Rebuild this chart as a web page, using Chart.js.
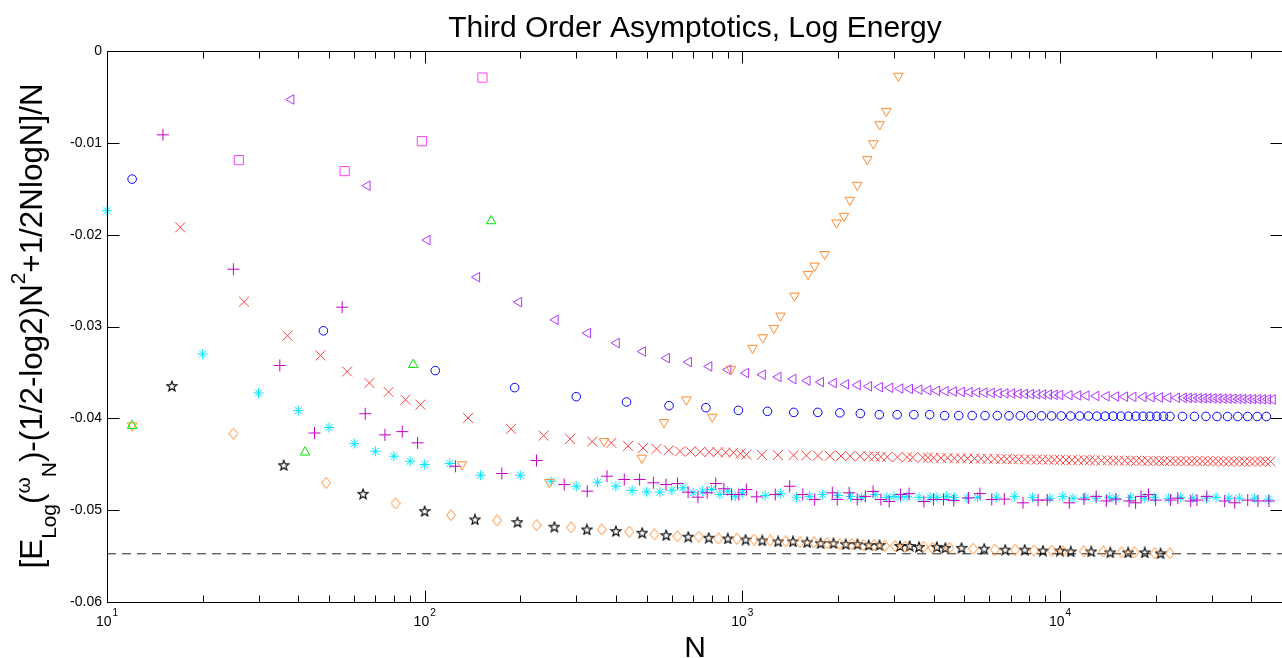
<!DOCTYPE html>
<html>
<head>
<meta charset="utf-8">
<title>Third Order Asymptotics, Log Energy</title>
<script src="https://cdn.jsdelivr.net/npm/chart.js@4.4.1/dist/chart.umd.min.js"></script>
<style>
  html, body { margin: 0; padding: 0; background: #fff; overflow: hidden; }
  #wrap { width: 1290px; height: 658px; position: relative; }
</style>
</head>
<body>
<div id="wrap"><canvas id="chart"></canvas></div>
<script>
// axis ranges and tick labels
const xMin = 10, xMax = 50000;
const xTicks = [10, 100, 1000, 10000];
const xTickExp = ['1', '2', '3', '4'];
const yTicks = [-0.06, -0.05, -0.04, -0.03, -0.02, -0.01, 0];
const yTickLabels = ['-0.06', '-0.05', '-0.04', '-0.03', '-0.02', '-0.01', '0'];
const limitValue = -0.05475; // dashed asymptote

// blue circles
const nCircle = [12, 48, 108, 192, 300, 432, 588, 768, 972, 1200,
  1452, 1728, 2028, 2352, 2700, 3072, 3468, 3888, 4332, 4800,
  5292, 5808, 6348, 6912, 7500, 8112, 8748, 9408, 10092, 10800,
  11532, 12288, 13068, 13872, 14700, 15552, 16428, 17328, 18252, 19200,
  20172, 21168, 22188, 24300, 26508, 28812, 31212, 33708, 36300, 38988,
  41772, 44652];
const eCircle = [-0.01395, -0.03047, -0.0348, -0.03666, -0.03764, -0.03822, -0.03862, -0.03884, -0.03913, -0.03924,
  -0.03935, -0.03935, -0.0394, -0.03948, -0.0396, -0.0396, -0.0396, -0.0396, -0.0397, -0.0397,
  -0.0397, -0.0397, -0.0397, -0.03972, -0.03972, -0.03973, -0.03973, -0.03974, -0.03974, -0.03975,
  -0.03975, -0.03975, -0.03976, -0.03976, -0.03976, -0.03977, -0.03977, -0.03977, -0.03978, -0.03978,
  -0.03978, -0.03978, -0.03979, -0.03979, -0.03979, -0.03979, -0.0398, -0.0398, -0.0398, -0.0398,
  -0.0398, -0.0398];

// purple left triangles
const nLeftTri = [38, 66, 102, 146, 198, 258, 326, 402, 486, 578,
  678, 786, 902, 1026, 1158, 1298, 1446, 1602, 1766, 1938,
  2118, 2306, 2502, 2706, 2918, 3138, 3366, 3602, 3846, 4098,
  4358, 4626, 4902, 5186, 5478, 5778, 6086, 6402, 6726, 7058,
  7398, 7746, 8102, 8466, 8838, 9218, 9606, 10002, 10700, 11400,
  12100, 13000, 14000, 15000, 16000, 17000, 18300, 19400, 20600, 21900,
  23300, 24500, 25400, 26300, 27300, 28300, 29300, 30400, 31500, 32700,
  33900, 35100, 36400, 37700, 39100, 40500, 42000, 43500, 45100, 46700];
const eLeftTri = [-0.00528, -0.01467, -0.0206, -0.02463, -0.02735, -0.02927, -0.03072, -0.0318, -0.03272, -0.03344,
  -0.03387, -0.03435, -0.03471, -0.03507, -0.03525, -0.0355, -0.03572, -0.0359, -0.03605, -0.03616,
  -0.0363, -0.03638, -0.03652, -0.0366, -0.03667, -0.03675, -0.0368, -0.03688, -0.03694, -0.037,
  -0.03704, -0.03708, -0.03712, -0.03715, -0.03718, -0.0372, -0.03723, -0.03726, -0.03728, -0.0373,
  -0.03732, -0.03734, -0.03736, -0.03738, -0.0374, -0.03742, -0.03744, -0.03745, -0.03748, -0.0375,
  -0.03753, -0.03756, -0.03759, -0.03762, -0.03764, -0.03766, -0.03768, -0.0377, -0.03772, -0.03774,
  -0.03776, -0.03777, -0.03778, -0.03779, -0.0378, -0.03781, -0.03782, -0.03783, -0.03784, -0.03785,
  -0.03786, -0.03787, -0.03788, -0.03789, -0.0379, -0.03791, -0.03792, -0.03793, -0.03794, -0.03795];

// red x marks
const nCrossX = [17, 27, 37, 47, 57, 67, 77, 87, 97,
  137, 187, 237, 287, 337, 387, 437, 487, 537, 587,
  637, 687, 737, 787, 837, 887, 937, 987,
  1030, 1152, 1294, 1449, 1590, 1730, 1886, 2045, 2184, 2350,
  2496, 2610, 2730, 2860, 3080, 3300, 3440, 3700, 3840, 4000,
  4220, 4430, 4650, 4880, 5120, 5380, 5640, 5920, 6220, 6530,
  6800, 7100, 7400, 7750, 8100, 8450, 8800, 9200, 9600, 10000,
  10450, 10900, 11400, 11900, 12400, 12900, 13500, 14100, 14700, 15300,
  16000, 16700, 17400, 18100, 18900, 19700, 20500, 21300, 22200, 23100,
  24000, 25000, 26000, 27000, 28100, 29200, 30300, 31500, 32700, 34000,
  35300, 36700, 38100, 39600, 41100, 42700, 44300, 46000];
const eCrossX = [-0.0192, -0.0273, -0.031, -0.03315, -0.0349, -0.03615, -0.03713, -0.03797, -0.03851,
  -0.03996, -0.04115, -0.04188, -0.04224, -0.04253, -0.04267, -0.043, -0.04322, -0.04333, -0.04348,
  -0.0436, -0.04362, -0.04365, -0.04368, -0.0437, -0.04372, -0.04374, -0.04385,
  -0.04395, -0.04398, -0.044, -0.04402, -0.04404, -0.04406, -0.04408, -0.0441, -0.04412, -0.04413,
  -0.04414, -0.04416, -0.04418, -0.0442, -0.04422, -0.04424, -0.04425, -0.04427, -0.04428, -0.0443,
  -0.04431, -0.04432, -0.04434, -0.04435, -0.04436, -0.04438, -0.04439, -0.0444, -0.04441, -0.04443,
  -0.04444, -0.04445, -0.04446, -0.04447, -0.04448, -0.04449, -0.0445, -0.04451, -0.04452, -0.04453,
  -0.04454, -0.04455, -0.04456, -0.04456, -0.04457, -0.04458, -0.04459, -0.04459, -0.0446, -0.04461,
  -0.04461, -0.04462, -0.04462, -0.04463, -0.04463, -0.04464, -0.04464, -0.04465, -0.04465, -0.04465,
  -0.04466, -0.04466, -0.04466, -0.04467, -0.04467, -0.04467, -0.04468, -0.04468, -0.04468, -0.04469,
  -0.04469, -0.04469, -0.0447, -0.0447, -0.0447, -0.0447, -0.0447, -0.0447];

// magenta plus signs
const nPlus = [15, 25, 35, 45, 55, 65, 75, 85, 95,
  125, 175, 225, 275, 325, 375, 425, 475, 525, 575,
  625, 675, 725, 775, 825, 875, 925, 975,
  1030, 1110, 1270, 1410, 1550, 1690, 1920, 1990, 2170, 2300,
  2440, 2580, 2730, 2900, 3150, 3350, 3730, 4000, 4300, 4630,
  5150, 5600, 6100, 6680, 7650, 8530, 9120, 10700, 11900, 13000,
  14000, 15000, 16500, 17300, 18000, 19000, 20000, 22300, 23500, 25800,
  27000, 29000, 33000, 35500, 39000, 42000, 45500];
const ePlus = [-0.00913, -0.02376, -0.03424, -0.0416, -0.0279, -0.0395, -0.0418, -0.04145, -0.04267,
  -0.04522, -0.04601, -0.0446, -0.04721, -0.04793, -0.0463, -0.04666, -0.04666, -0.04702, -0.04721,
  -0.0471, -0.04804, -0.04859, -0.04811, -0.0471, -0.04767, -0.04829, -0.0483,
  -0.04775, -0.04855, -0.0483, -0.0474, -0.0483, -0.04884, -0.04811, -0.04884, -0.04811, -0.04884,
  -0.0485, -0.04796, -0.04884, -0.04906, -0.0483, -0.0482, -0.04906, -0.04884, -0.04884, -0.04896,
  -0.04867, -0.0482, -0.04884, -0.0488, -0.0492, -0.0489, -0.0489, -0.0492, -0.0488, -0.0485,
  -0.049, -0.0488, -0.049, -0.0492, -0.0485, -0.0483, -0.0489, -0.0489, -0.0487, -0.049,
  -0.0489, -0.0485, -0.049, -0.0492, -0.0489, -0.049, -0.049];

// cyan asterisks
const nAster = [10, 20, 30, 40, 50, 60, 70, 80, 90, 100,
  120, 150, 200, 250, 300, 350, 400, 450, 500, 550,
  600, 650, 700, 750, 800, 850, 900, 950,
  1000, 1180, 1320, 1480, 1630, 1790, 2000, 2190, 2370, 2620,
  2850, 3000, 3150, 3300, 3600, 3900, 4100, 4400, 4650, 5100,
  5500, 6300, 7200, 8200, 9300, 10200, 11000, 12000, 13000, 14300,
  15000, 16700, 18500, 19800, 22000, 24000, 26200, 28900, 31000, 34000,
  36700, 41000, 45300];
const eAster = [-0.01739, -0.033, -0.03724, -0.03916, -0.041, -0.04275, -0.04359, -0.04413, -0.04467, -0.04503,
  -0.04492, -0.0462, -0.0462, -0.04685, -0.04739, -0.04696, -0.04739, -0.04786, -0.048, -0.04804,
  -0.04783, -0.04757, -0.04811, -0.04793, -0.04775, -0.04829, -0.04793, -0.04848,
  -0.0481, -0.0484, -0.0482, -0.0486, -0.0485, -0.0483, -0.0484, -0.0485, -0.0486, -0.0483,
  -0.0486, -0.0485, -0.0486, -0.0485, -0.0486, -0.0486, -0.0486, -0.0485, -0.0486, -0.0487,
  -0.0486, -0.0486, -0.0485, -0.0486, -0.0487, -0.0485, -0.0487, -0.0486, -0.0487, -0.0486,
  -0.0487, -0.0486, -0.0487, -0.0486, -0.0487, -0.0486, -0.0487, -0.0487, -0.0486, -0.0487,
  -0.0487, -0.0487, -0.0488];

// green up triangles
const nUpTri = [12, 42, 92, 162];
const eUpTri = [-0.0408, -0.0437, -0.03416, -0.01851];

// orange down triangles
const nDownTri = [12, 131, 247, 367, 483, 567, 667, 805, 922, 1077,
  1160, 1257, 1318, 1460, 1610, 1690, 1816, 1979, 2090, 2180,
  2300, 2474, 2585, 2705, 2840, 3100];
const eDownTri = [-0.0408, -0.04503, -0.04696, -0.0425, -0.04431, -0.04043, -0.03797, -0.03985, -0.03463, -0.03235,
  -0.0312, -0.03018, -0.02884, -0.02666, -0.0243, -0.0234, -0.02213, -0.0187, -0.01797, -0.01623,
  -0.0146, -0.0118, -0.01007, -0.008, -0.00655, -0.00272];

// magenta squares
const nSquare = [26, 56, 98, 152];
const eSquare = [-0.01188, -0.01308, -0.00982, -0.00289];

// orange diamonds
const nDiamond = [25, 49, 81, 121, 169, 225, 289, 361, 441, 529,
  625, 729, 841, 961, 1089, 1225, 1369, 1521, 1681, 1849,
  2025, 2209, 2401, 2601, 2809, 3025, 3249, 3721, 3969, 4489,
  5329, 6241, 7225, 8281, 9409, 10201, 11881, 13689, 15625, 17161,
  19881, 22201];
const eDiamond = [-0.04166, -0.04702, -0.04927, -0.05054, -0.05112, -0.05163, -0.05188, -0.0521, -0.05235, -0.05264,
  -0.05283, -0.05289, -0.05308, -0.05311, -0.0532, -0.0533, -0.0534, -0.0535, -0.0535, -0.0536,
  -0.0537, -0.0537, -0.0538, -0.0538, -0.0539, -0.0539, -0.054, -0.054, -0.0541, -0.0541,
  -0.0542, -0.0543, -0.0543, -0.0544, -0.0544, -0.0545, -0.0545, -0.0545, -0.0546, -0.0546,
  -0.0547, -0.0547];

// black pentagrams
const nPenta = [16, 36, 64, 100, 144, 196, 256, 324, 400, 484,
  576, 676, 784, 900, 1024, 1156, 1296, 1444, 1600, 1764,
  1936, 2116, 2304, 2500, 2704, 3136, 3364, 3600, 4096, 4356,
  4900, 5776, 6724, 7744, 8836, 10000, 10816, 12544, 14400, 16384,
  18496, 20736];
const ePenta = [-0.03648, -0.0451, -0.04822, -0.0501, -0.05101, -0.0513, -0.0518, -0.0521, -0.05228, -0.05246,
  -0.05272, -0.05289, -0.053, -0.05308, -0.0532, -0.0533, -0.0534, -0.0534, -0.0535, -0.0536,
  -0.0536, -0.0537, -0.0537, -0.0538, -0.0538, -0.0539, -0.0539, -0.054, -0.054, -0.0541,
  -0.0541, -0.0542, -0.0543, -0.0543, -0.0544, -0.0544, -0.0545, -0.0545, -0.0546, -0.0546,
  -0.0546, -0.0547];

const FONT = '"Liberation Sans", Arial, Helvetica, sans-serif';

function pts(ns, es) {
  return ns.map((n, i) => ({ x: n, y: es[i] }));
}

// small canvases for marker shapes Chart.js does not have
function markerCanvas(w, h, color, lw, path) {
  const c = document.createElement('canvas');
  c.width = w; c.height = h;
  const g = c.getContext('2d');
  g.strokeStyle = color;
  g.lineWidth = lw;
  g.lineJoin = 'miter';
  g.beginPath();
  path(g, w / 2, h / 2);
  g.closePath();
  g.stroke();
  return c;
}
const diamondImg = markerCanvas(10, 12, '#ff8c30', 1, (g, cx, cy) => {
  g.moveTo(cx, 0.5); g.lineTo(9.5, cy); g.lineTo(cx, 11.5); g.lineTo(0.5, cy);
});
const pentaImg = markerCanvas(12, 12, '#000', 1.1, (g, cx, cy) => {
  for (let k = 0; k < 10; k++) {
    const r = k % 2 === 0 ? 5.3 : 2.2;
    const a = -Math.PI / 2 + k * Math.PI / 5;
    const px = cx + r * Math.cos(a), py = cy + 0.5 + r * Math.sin(a);
    if (k === 0) g.moveTo(px, py); else g.lineTo(px, py);
  }
});

function series(data, color, style, radius, rotation) {
  return {
    data: data,
    borderColor: color,
    backgroundColor: 'rgba(0,0,0,0)',
    pointStyle: style,
    pointRadius: radius,
    pointRotation: rotation || 0,
    pointBorderWidth: 1,
    showLine: false,
    clip: false
  };
}

const matlabAxes = {
  id: 'matlabAxes',
  afterDraw(chart) {
    const { ctx, chartArea: a, scales: { x, y } } = chart;
    const L = Math.round(a.left) + 0.5, R = Math.round(a.right) + 0.5;
    const T = Math.round(a.top) + 0.5, B = Math.round(a.bottom) + 0.5;
    ctx.save();
    ctx.strokeStyle = '#000';
    ctx.lineWidth = 1;
    ctx.beginPath();
    ctx.rect(L, T, R - L, B - T);
    // x ticks, inward, top and bottom
    for (let k = 1; k <= 4; k++) {
      for (let m = 1; m <= 9; m++) {
        const v = m * Math.pow(10, k);
        if (v > xMax) break;
        const px = Math.round(x.getPixelForValue(v)) + 0.5;
        const len = m === 1 ? 12 : 7;
        ctx.moveTo(px, B); ctx.lineTo(px, B - len);
        ctx.moveTo(px, T); ctx.lineTo(px, T + len);
      }
    }
    // y ticks, inward, left and right
    yTicks.forEach(v => {
      const py = Math.round(y.getPixelForValue(v)) + 0.5;
      ctx.moveTo(L, py); ctx.lineTo(L + 12, py);
      ctx.moveTo(R, py); ctx.lineTo(R - 12, py);
    });
    ctx.stroke();

    ctx.fillStyle = '#000';
    ctx.textBaseline = 'alphabetic';
    ctx.textAlign = 'left';
    // x tick labels 10^k
    xTicks.forEach((v, i) => {
      const px = x.getPixelForValue(v);
      ctx.font = '14px ' + FONT;
      const w1 = ctx.measureText('10').width;
      ctx.font = '10px ' + FONT;
      const w2 = ctx.measureText(xTickExp[i]).width;
      const sx = px - (w1 + w2 + 1) / 2;
      ctx.font = '14px ' + FONT;
      ctx.fillText('10', sx, 626);
      ctx.font = '10px ' + FONT;
      ctx.fillText(xTickExp[i], sx + w1 + 1, 616);
    });

    // title and x label
    ctx.textAlign = 'center';
    ctx.font = '30px ' + FONT;
    ctx.fillText('Third Order Asymptotics, Log Energy', 695, 37);
    ctx.fillText('N', 695, 657);

    // y label with sub/superscripts, rotated
    const parts = [
      { t: '[E', size: 30, dy: 0 },
      { t: 'Log', size: 20, dy: 14 },
      { t: '(', size: 30, dy: 0 },
      { t: 'ω', size: 20, dy: -12 },
      { t: 'N', size: 20, dy: 14 },
      { t: ')-(1/2-log2)N', size: 30, dy: 0 },
      { t: '2', size: 20, dy: -17 },
      { t: '+1/2NlogN]/N', size: 30, dy: 0 }
    ];
    ctx.textAlign = 'left';
    let total = 0;
    parts.forEach(p => { ctx.font = p.size + 'px ' + FONT; p.w = ctx.measureText(p.t).width; total += p.w; });
    const scale = 485 / total;
    ctx.translate(42, 326);
    ctx.rotate(-Math.PI / 2);
    let cx = -485 / 2;
    parts.forEach(p => {
      ctx.font = (p.size * scale).toFixed(1) + 'px ' + FONT;
      ctx.fillText(p.t, cx, p.dy);
      cx += p.w * scale;
    });
    ctx.restore();
  }
};

new Chart(document.getElementById('chart'), {
  type: 'scatter',
  data: {
    datasets: [
      series(pts(nUpTri, eUpTri), '#00e600', 'triangle', 5.5, 0),
      series(pts(nDownTri, eDownTri), '#ff8c30', 'triangle', 5.5, 180),
      series(pts(nSquare, eSquare), '#ff40ff', 'rect', 6.5, 0),
      series(pts(nLeftTri, eLeftTri), '#b035ff', 'triangle', 5.5, -90),
      series(pts(nCircle, eCircle), '#0000ff', 'circle', 4.3, 0),
      series(pts(nCrossX, eCrossX), '#ff4040', 'crossRot', 7, 0),
      series(pts(nPlus, ePlus), '#c400c4', 'cross', 6, 0),
      series(pts(nAster, eAster), '#00e8ff', 'star', 5, 0),
      series(pts(nDiamond, eDiamond), '#ff8c30', diamondImg, 5, 0),
      series(pts(nPenta, ePenta), '#000', pentaImg, 5, 0),
      {
        data: [{ x: xMin, y: limitValue }, { x: xMax, y: limitValue }],
        borderColor: '#222',
        borderWidth: 1,
        borderDash: [9, 6],
        pointRadius: 0,
        showLine: true,
        clip: false
      }
    ]
  },
  options: {
    responsive: true,
    maintainAspectRatio: false,
    devicePixelRatio: 1,
    animation: false,
    events: [],
    layout: { padding: { top: 51, bottom: 56, left: 0, right: 1 } },
    plugins: {
      legend: { display: false },
      tooltip: { enabled: false },
      title: { display: false }
    },
    scales: {
      x: {
        type: 'logarithmic',
        min: xMin,
        max: xMax,
        grid: { display: false, drawTicks: false },
        border: { display: false },
        ticks: { display: false },
        afterFit: (s) => { s.height = 0; }
      },
      y: {
        min: -0.06,
        max: 0,
        grid: { display: false, drawTicks: false },
        border: { display: false },
        afterBuildTicks: (s) => { s.ticks = yTicks.map(v => ({ value: v })); },
        ticks: {
          padding: 5,
          color: '#000',
          font: { family: FONT, size: 14 },
          callback: (v, i) => yTickLabels[i]
        },
        afterFit: (s) => { s.width = 107; }
      }
    }
  },
  plugins: [matlabAxes]
});
</script>
</body>
</html>
